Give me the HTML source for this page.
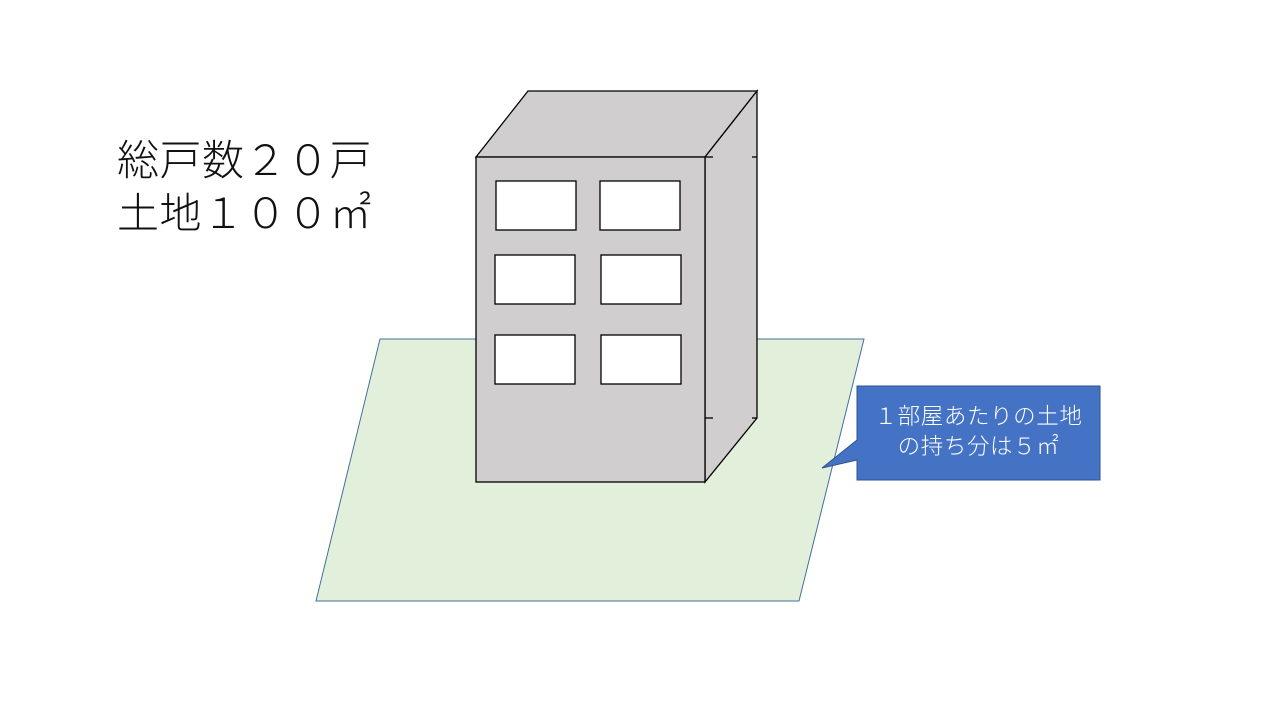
<!DOCTYPE html>
<html><head><meta charset="utf-8"><style>
body{margin:0;width:1280px;height:720px;background:#fff;overflow:hidden;position:relative;font-family:"Liberation Sans","Noto Sans CJK JP",sans-serif}
.t{position:absolute;left:117px;font-size:42px;line-height:52px;color:#111;white-space:nowrap;font-weight:300;letter-spacing:0.5px}
.c{position:absolute;left:857px;top:386px;width:243px;height:94px;color:#fff;font-size:22.5px;line-height:30px;text-align:center;padding-top:16px;box-sizing:border-box;white-space:nowrap;font-weight:300;letter-spacing:0.6px}
</style></head><body>
<svg width="1280" height="720" style="position:absolute;left:0;top:0">
<polygon points="380,339 864,339 799,601 316,601" fill="#e2efda" stroke="#41719c" stroke-width="1"/>
<polygon points="476,157 528,91 757,91 705,157" fill="#d0cece" stroke="#000" stroke-width="1.3"/>
<polygon points="705,157 757,91 757,418 705,482" fill="#d0cece" stroke="#000" stroke-width="1.3"/>
<rect x="476" y="157" width="229" height="325" fill="#d0cece" stroke="#000" stroke-width="1.3"/>
<g fill="#fff" stroke="#000" stroke-width="1.3">
<rect x="496" y="181" width="80" height="49"/><rect x="600" y="181" width="80" height="49"/>
<rect x="495" y="255" width="80" height="49"/><rect x="601" y="255" width="80" height="49"/>
<rect x="495" y="335" width="80" height="49"/><rect x="601" y="335" width="80" height="49"/>
</g>
<g stroke="#000" stroke-width="1.3"><line x1="705" y1="157" x2="713" y2="157"/><line x1="752" y1="157" x2="757" y2="157"/><line x1="705" y1="418" x2="713" y2="418"/><line x1="752" y1="418" x2="757" y2="418"/></g>
<path d="M857,386 H1100 V480 H857 V460 L822,468 L857,440 Z" fill="#4472c4" stroke="#2f528f" stroke-width="1"/>
</svg>
<div class="t" style="top:135px">総戸数２０戸</div>
<div class="t" style="top:188px">土地１００㎡</div>
<div class="c">１部屋あたりの土地<br>の持ち分は５㎡</div>
</body></html>
